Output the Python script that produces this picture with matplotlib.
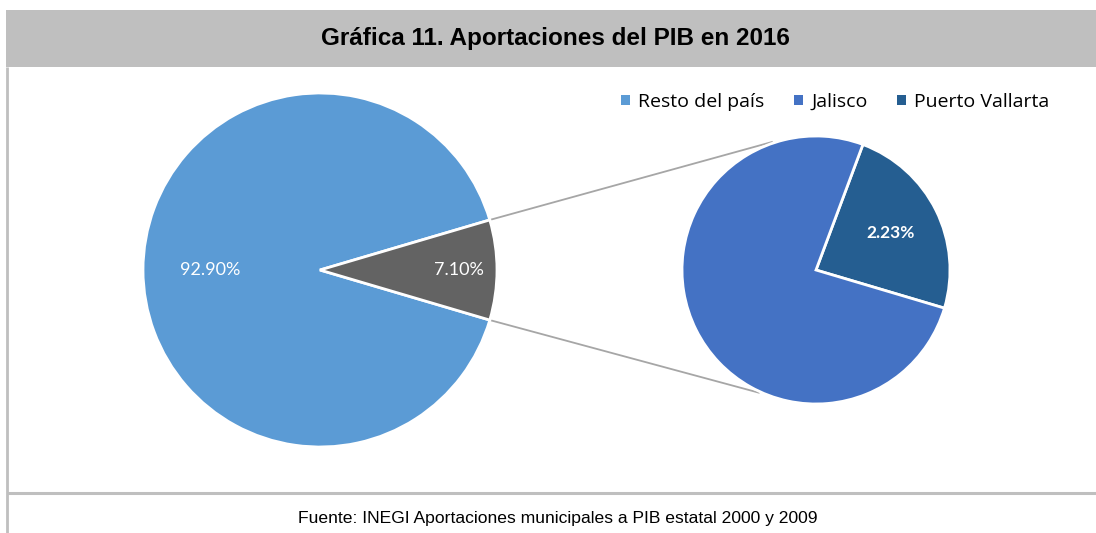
import matplotlib
matplotlib.use("Agg")
import matplotlib.pyplot as plt
from matplotlib.patches import Rectangle, Patch
import numpy as np

# Data
main_labels = ["Resto del país", "Jalisco + Puerto Vallarta"]
resto = 92.90
jalisco = 7.10
pvallarta = 2.23
main_values = [resto, jalisco + pvallarta]
main_texts = ["92.90%", "7.10%"]
sub_labels = ["Puerto Vallarta", "Jalisco"]
sub_values = [pvallarta, jalisco]
sub_texts = ["2.23%", None]
legend_labels = ["Resto del país", "Jalisco", "Puerto Vallarta"]

c_resto = "#5B9BD5"
c_other = "#636363"
c_jal = "#4472C4"
c_pv = "#255E91"

W, H = 1096, 533
fig = plt.figure(figsize=(W / 100, H / 100), dpi=100)
ax = fig.add_axes([0, 0, 1, 1])

def Y(y):
    return H - y

# Title bar
ax.add_patch(Rectangle((6, Y(67)), W - 6, 57, facecolor="#BFBFBF", edgecolor="none", zorder=0))
ax.text(555, Y(38), "Gráfica 11. Aportaciones del PIB en 2016", ha="center", va="center",
        fontsize=17.5, fontweight="bold", family="Liberation Sans", color="black")
# Borders
ax.plot([7, 7], [Y(67), Y(533)], color="#BFBFBF", lw=2, solid_capstyle="butt")
ax.plot([7, W], [Y(493), Y(493)], color="#BFBFBF", lw=2.2, solid_capstyle="butt")
ax.text(558, Y(518), "Fuente: INEGI Aportaciones municipales a PIB estatal 2000 y 2009",
        ha="center", va="center", fontsize=12.6, family="Liberation Sans", color="black")

# Main pie
cx1, cy1, r1 = 320, 270, 177
other_span = 360 * main_values[1] / sum(main_values)
w1, _ = ax.pie(main_values, colors=[c_resto, c_other], startangle=other_span / 2,
               center=(cx1, Y(cy1)), radius=r1,
               wedgeprops=dict(edgecolor="white", linewidth=2), frame=True)
for w, t, d in zip(w1, main_texts, [0.62, 0.785]):
    ang = np.deg2rad((w.theta1 + w.theta2) / 2)
    ax.text(cx1 + d * r1 * np.cos(ang), Y(cy1) + d * r1 * np.sin(ang), t, ha="center", va="center",
            color="white", fontsize=13, family="Lato")

# Second pie
cx2, cy2, r2 = 816, 270, 134
w2, _ = ax.pie(sub_values, colors=[c_pv, c_jal], startangle=69.5, counterclock=False,
               center=(cx2, Y(cy2)), radius=r2,
               wedgeprops=dict(edgecolor="white", linewidth=2), frame=True)
for w, t in zip(w2, sub_texts):
    if t is None:
        continue
    ang = np.deg2rad((w.theta1 + w.theta2) / 2)
    ax.text(cx2 + 0.62 * r2 * np.cos(ang), Y(cy2) + 0.62 * r2 * np.sin(ang), t, ha="center", va="center",
            color="white", fontsize=12.5, family="Lato", fontweight="bold")

# Connector lines
o = w1[1]
for th, end_ang in [(o.theta2, 109), (o.theta1, -115)]:
    a = np.deg2rad(th)
    x0, y0 = cx1 + r1 * np.cos(a), Y(cy1) + r1 * np.sin(a)
    b = np.deg2rad(end_ang)
    x1, y1 = cx2 + 1.01 * r2 * np.cos(b), Y(cy2) + 1.01 * r2 * np.sin(b)
    ax.plot([x0, x1], [y0, y1], color="#A6A6A6", lw=1.3, zorder=0.5)

# Legend
handles = [Patch(facecolor=c) for c in [c_resto, c_jal, c_pv]]
leg = ax.legend(handles, legend_labels, ncol=3, frameon=False, loc="center left",
                bbox_to_anchor=(621 / W, 1 - 102 / H), bbox_transform=fig.transFigure,
                handlelength=0.47, handleheight=0.47, handletextpad=0.42, columnspacing=1.5,
                prop=dict(family="Open Sans", size=14), borderaxespad=0, borderpad=0)

ax.set_xlim(0, W)
ax.set_ylim(0, H)
ax.set_aspect("auto")
ax.axis("off")
fig.savefig("out.png", dpi=100)
